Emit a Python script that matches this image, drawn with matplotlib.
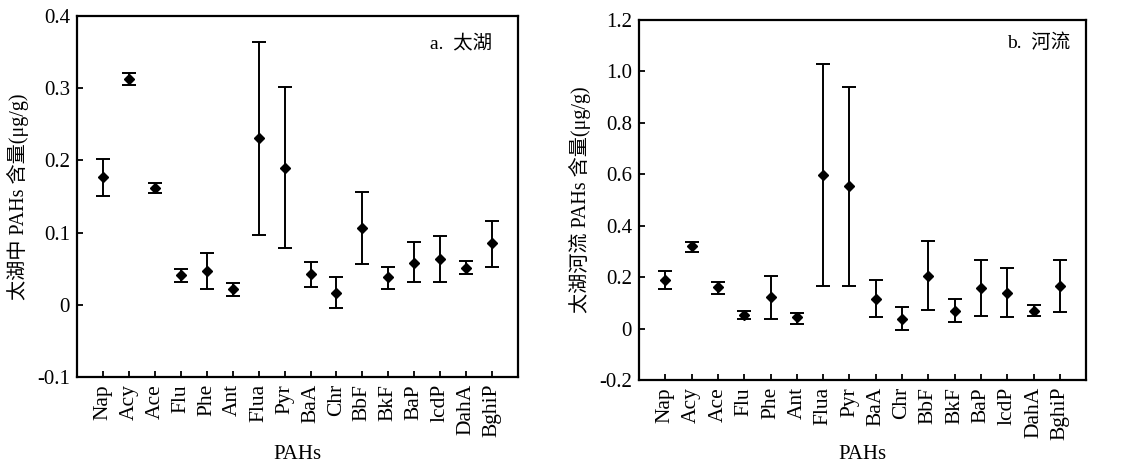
import matplotlib
matplotlib.use('Agg')
import matplotlib.pyplot as plt

plt.rcParams['font.family'] = ['Liberation Serif', 'Noto Sans CJK SC']
plt.rcParams['axes.unicode_minus'] = False

pahs = ['Nap', 'Acy', 'Ace', 'Flu', 'Phe', 'Ant', 'Flua', 'Pyr',
        'BaA', 'Chr', 'BbF', 'BkF', 'BaP', 'lcdP', 'DahA', 'BghiP']

# a. Taihu lake
lake_mean = [0.177, 0.313, 0.162, 0.041, 0.047, 0.022, 0.231, 0.190,
             0.043, 0.017, 0.107, 0.038, 0.058, 0.063, 0.051, 0.085]
lake_high = [0.202, 0.321, 0.169, 0.050, 0.072, 0.030, 0.364, 0.302,
             0.060, 0.039, 0.156, 0.053, 0.087, 0.096, 0.061, 0.116]
lake_low = [0.151, 0.305, 0.155, 0.032, 0.022, 0.012, 0.097, 0.079,
            0.025, -0.004, 0.057, 0.022, 0.031, 0.032, 0.043, 0.053]

# b. rivers
river_mean = [0.187, 0.319, 0.160, 0.054, 0.124, 0.043, 0.596, 0.553,
              0.113, 0.039, 0.206, 0.070, 0.156, 0.140, 0.070, 0.167]
river_high = [0.222, 0.338, 0.180, 0.070, 0.206, 0.062, 1.027, 0.938,
              0.187, 0.082, 0.339, 0.113, 0.265, 0.237, 0.093, 0.265]
river_low = [0.152, 0.296, 0.136, 0.039, 0.039, 0.019, 0.167, 0.167,
             0.043, -0.004, 0.074, 0.027, 0.047, 0.043, 0.047, 0.066]

lake_ticks = [-0.1, 0, 0.1, 0.2, 0.3, 0.4]
lake_ticklabels = ['-0.1', '0', '0.1', '0.2', '0.3', '0.4']
river_ticks = [-0.2, 0, 0.2, 0.4, 0.6, 0.8, 1.0, 1.2]
river_ticklabels = ['-0.2', '0', '0.2', '0.4', '0.6', '0.8', '1.0', '1.2']

fig = plt.figure(figsize=(11.28, 4.62), dpi=100)
ax1 = fig.add_axes([0.0683, 0.184, 0.391, 0.781])
ax2 = fig.add_axes([0.5665, 0.1775, 0.3965, 0.7795])

x = list(range(1, len(pahs) + 1))


def draw(ax, mean, high, low, ticks, ticklabels, ylabel, tag, tagpos, xlab_y):
    yerr = [[m - l for m, l in zip(mean, low)], [h - m for m, h in zip(mean, high)]]
    ax.errorbar(x, mean, yerr=yerr, fmt='D', color='black', markersize=5,
                elinewidth=1.4, capsize=5, capthick=1.4)
    ax.set_xlim(0, 17)
    ax.set_ylim(ticks[0], ticks[-1])
    ax.set_xticks(x)
    ax.set_xticklabels(pahs, rotation=90, fontsize=15.5)
    ax.set_yticks(ticks)
    ax.set_yticklabels(ticklabels, fontsize=15)
    ax.tick_params(direction='in', length=4, width=1.3, top=False, right=False, pad=5)
    for s in ax.spines.values():
        s.set_linewidth(1.6)
    ax.set_xlabel('PAHs', fontsize=15)
    ax.xaxis.set_label_coords(0.5, xlab_y)
    ax.set_ylabel(ylabel, fontsize=14.5, labelpad=6)
    ax.text(tagpos[0], tagpos[1], tag, transform=ax.transAxes, ha='right', va='center', fontsize=14)


draw(ax1, lake_mean, lake_high, lake_low, lake_ticks, lake_ticklabels,
     '太湖中 PAHs 含量(μg/g)', 'a.  太湖', (0.941, 0.925), -0.188)
draw(ax2, river_mean, river_high, river_low, river_ticks, river_ticklabels,
     '太湖河流 PAHs 含量(μg/g)', 'b.  河流', (0.964, 0.936), -0.18)

fig.savefig('out.png', dpi=100)
